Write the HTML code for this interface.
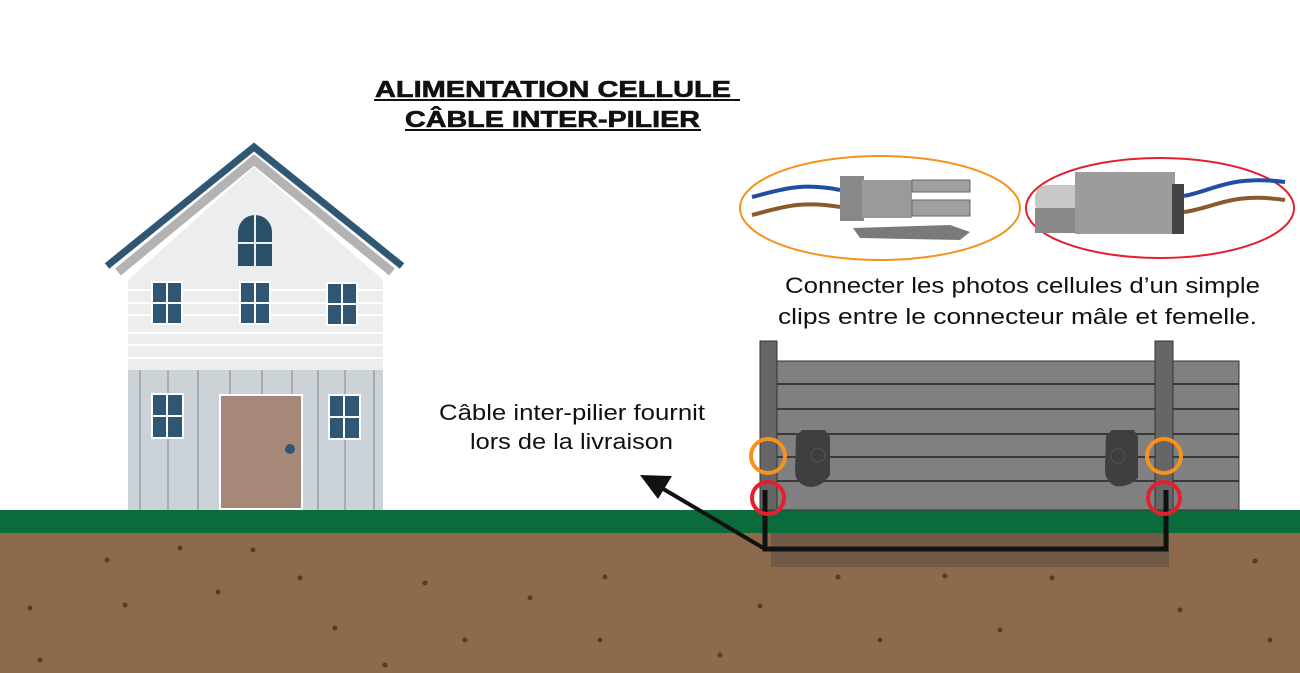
<!DOCTYPE html>
<html><head><meta charset="utf-8"><style>
body{margin:0;background:#fff}
svg{display:block}
text{font-family:"Liberation Sans",sans-serif}
</style></head><body>
<svg width="1300" height="673" viewBox="0 0 1300 673" xmlns="http://www.w3.org/2000/svg">
<rect width="1300" height="673" fill="#fff"/>
<!-- ground -->
<rect x="0" y="532" width="1300" height="141" fill="#8c6a4b"/>
<rect x="0" y="510" width="1300" height="23" fill="#0c6b3a"/>
<g fill="#5a3a22">
<circle cx="107" cy="560" r="2.5"/><circle cx="180" cy="548" r="2.5"/><circle cx="253" cy="550" r="2.5"/><circle cx="300" cy="578" r="2.5"/><circle cx="218" cy="592" r="2.5"/><circle cx="125" cy="605" r="2.5"/><circle cx="30" cy="608" r="2.5"/><circle cx="335" cy="628" r="2.5"/><circle cx="425" cy="583" r="2.5"/><circle cx="465" cy="640" r="2.5"/><circle cx="530" cy="598" r="2.5"/><circle cx="605" cy="577" r="2.5"/><circle cx="600" cy="640" r="2.5"/><circle cx="720" cy="655" r="2.5"/><circle cx="760" cy="606" r="2.5"/><circle cx="838" cy="577" r="2.5"/><circle cx="945" cy="576" r="2.5"/><circle cx="1052" cy="578" r="2.5"/><circle cx="1255" cy="561" r="2.5"/><circle cx="1180" cy="610" r="2.5"/><circle cx="1000" cy="630" r="2.5"/><circle cx="880" cy="640" r="2.5"/><circle cx="1270" cy="640" r="2.5"/><circle cx="40" cy="660" r="2.5"/><circle cx="385" cy="665" r="2.5"/>
</g>
<!-- trench -->
<rect x="771" y="533" width="398" height="34" fill="#6e5a48" opacity="0.9"/>
<!-- house -->
<polygon points="128,280 254,167 383,280 383,510 128,510" fill="#eceeee"/>
<rect x="128" y="370" width="255" height="140" fill="#cbd3d8"/>
<g stroke="#fff" stroke-width="2"><line x1="128" y1="290" x2="383" y2="290"/><line x1="128" y1="303" x2="383" y2="303"/><line x1="128" y1="315" x2="383" y2="315"/><line x1="128" y1="333" x2="383" y2="333"/><line x1="128" y1="345" x2="383" y2="345"/><line x1="128" y1="358" x2="383" y2="358"/></g>
<g stroke="#a9abae" stroke-width="2"><line x1="140" y1="370" x2="140" y2="510"/><line x1="168" y1="370" x2="168" y2="510"/><line x1="198" y1="370" x2="198" y2="510"/><line x1="230" y1="370" x2="230" y2="395"/><line x1="262" y1="370" x2="262" y2="395"/><line x1="292" y1="370" x2="292" y2="395"/><line x1="318" y1="370" x2="318" y2="510"/><line x1="345" y1="370" x2="345" y2="510"/><line x1="374" y1="370" x2="374" y2="510"/></g>
<polyline points="118,272 254,160 392,272" fill="none" stroke="#b3b3b3" stroke-width="9"/>
<polyline points="107,266 254,147 402,266" fill="none" stroke="#2f5673" stroke-width="7"/>
<path d="M238,266 V232 A17,17 0 0 1 272,232 V266 Z" fill="#2a5068"/>
<line x1="255" y1="215" x2="255" y2="266" stroke="#eceeee" stroke-width="2"/><line x1="238" y1="243" x2="272" y2="243" stroke="#eceeee" stroke-width="2"/>
<g fill="#2f5673" stroke="#fff" stroke-width="2">
<rect x="152" y="282" width="30" height="42"/><rect x="240" y="282" width="30" height="42"/><rect x="327" y="283" width="30" height="42"/>
<rect x="152" y="394" width="31" height="44"/><rect x="329" y="395" width="31" height="44"/>
</g>
<g stroke="#fff" stroke-width="2">
<line x1="167" y1="282" x2="167" y2="324"/><line x1="152" y1="303" x2="182" y2="303"/>
<line x1="255" y1="282" x2="255" y2="324"/><line x1="240" y1="303" x2="270" y2="303"/>
<line x1="342" y1="283" x2="342" y2="325"/><line x1="327" y1="304" x2="357" y2="304"/>
<line x1="167" y1="394" x2="167" y2="438"/><line x1="152" y1="416" x2="183" y2="416"/>
<line x1="344" y1="395" x2="344" y2="439"/><line x1="329" y1="417" x2="360" y2="417"/>
</g>
<rect x="220" y="395" width="82" height="114" fill="#a58877" stroke="#fff" stroke-width="2"/>
<circle cx="290" cy="449" r="5" fill="#2f5673"/>
<!-- fence -->
<rect x="777" y="361" width="462" height="149" fill="#808080" stroke="#333" stroke-width="1"/>
<g stroke="#222" stroke-width="1.5"><line x1="777" y1="384" x2="1239" y2="384"/><line x1="777" y1="409" x2="1239" y2="409"/><line x1="777" y1="434" x2="1239" y2="434"/><line x1="777" y1="457" x2="1239" y2="457"/><line x1="777" y1="481" x2="1239" y2="481"/></g>
<rect x="760" y="341" width="17" height="169" fill="#666" stroke="#333" stroke-width="1"/>
<rect x="1155" y="341" width="18" height="169" fill="#666" stroke="#333" stroke-width="1"/>
<path d="M796,436 L802,430 L825,430 L830,437 L830,475 Q822,487 810,487 Q796,485 795,472 Z" fill="#3f3f3f"/>
<circle cx="818" cy="455" r="7" fill="none" stroke="#555"/>
<path d="M1106,436 L1112,430 L1134,430 L1138,437 L1138,478 Q1128,488 1115,486 Q1104,480 1105,468 Z" fill="#3f3f3f"/>
<circle cx="1118" cy="456" r="7" fill="none" stroke="#555"/>
<!-- cable -->
<polyline points="765,490 765,549 1166,549 1166,490" fill="none" stroke="#111" stroke-width="5"/>
<line x1="765" y1="549" x2="660" y2="487" stroke="#111" stroke-width="4"/>
<polygon points="640,475 672,476 658,499" fill="#111"/>
<!-- circles -->
<g fill="none" stroke-width="4">
<circle cx="768" cy="456" r="17" stroke="#f5931e"/><circle cx="1164" cy="456" r="17" stroke="#f5931e"/>
<circle cx="768" cy="498" r="16" stroke="#e5202e"/><circle cx="1164" cy="498" r="16" stroke="#e5202e"/>
</g>
<!-- connectors -->
<ellipse cx="880" cy="208" rx="140" ry="52" fill="none" stroke="#f5931e" stroke-width="2"/>
<ellipse cx="1160" cy="208" rx="134" ry="50" fill="none" stroke="#e5202e" stroke-width="2"/>
<path d="M752,197 C780,190 800,182 840,190" fill="none" stroke="#1f4fa3" stroke-width="4"/>
<path d="M752,215 C780,208 800,200 840,207" fill="none" stroke="#8a5a2c" stroke-width="4"/>
<rect x="840" y="176" width="24" height="45" fill="#888"/>
<rect x="862" y="180" width="50" height="38" fill="#9a9a9a"/>
<rect x="912" y="180" width="58" height="12" fill="#a0a0a0" stroke="#666"/>
<rect x="912" y="200" width="58" height="16" fill="#a0a0a0" stroke="#666"/>
<polygon points="853,228 950,225 970,232 960,240 860,238" fill="#7a7a7a"/>
<rect x="1035" y="185" width="70" height="30" rx="12" fill="#c8c8c8"/>
<rect x="1035" y="208" width="70" height="25" fill="#8a8a8a"/>
<rect x="1075" y="172" width="100" height="62" fill="#9c9c9c"/>
<rect x="1172" y="184" width="12" height="50" fill="#444"/>
<path d="M1184,196 C1215,190 1230,175 1285,182" fill="none" stroke="#1f4fa3" stroke-width="4"/>
<path d="M1184,212 C1215,208 1230,192 1285,200" fill="none" stroke="#8a5a2c" stroke-width="4"/>
<!-- text -->
<text x="375" y="97" font-size="23" font-weight="bold" fill="#111" textLength="356" lengthAdjust="spacingAndGlyphs" stroke="#111" stroke-width="0.6">ALIMENTATION CELLULE</text>
<line x1="374" y1="100" x2="740" y2="100" stroke="#111" stroke-width="2"/>
<text x="405" y="127" font-size="23" font-weight="bold" fill="#111" textLength="295" lengthAdjust="spacingAndGlyphs" stroke="#111" stroke-width="0.6">CÂBLE INTER-PILIER</text>
<line x1="405" y1="130" x2="701" y2="130" stroke="#111" stroke-width="2"/>
<text x="785" y="293" font-size="22" fill="#111" textLength="475" lengthAdjust="spacingAndGlyphs">Connecter les photos cellules d’un simple</text>
<text x="778" y="324" font-size="22" fill="#111" textLength="479" lengthAdjust="spacingAndGlyphs">clips entre le connecteur mâle et femelle.</text>
<text x="439" y="420" font-size="22" fill="#111" textLength="266" lengthAdjust="spacingAndGlyphs">Câble inter-pilier fournit</text>
<text x="470" y="449" font-size="22" fill="#111" textLength="203" lengthAdjust="spacingAndGlyphs">lors de la livraison</text>
</svg>
</body></html>
